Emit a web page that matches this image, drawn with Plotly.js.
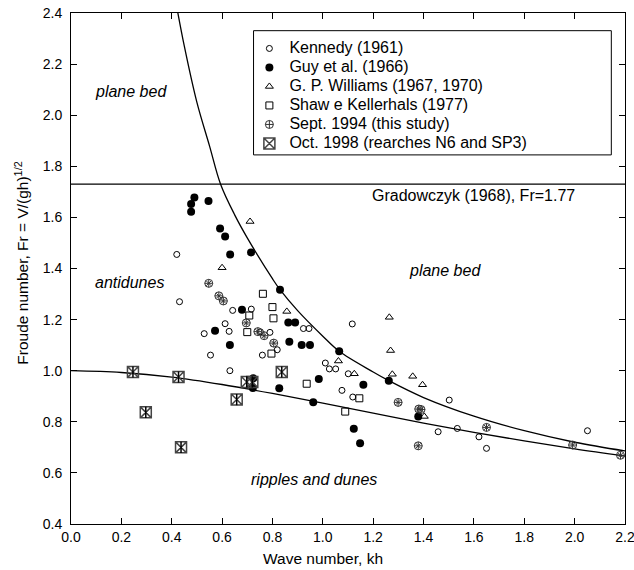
<!DOCTYPE html>
<html>
<head>
<meta charset="utf-8">
<script src="https://cdn.plot.ly/plotly-3.0.1.min.js"></script>
<style>html,body{margin:0;padding:0;background:#fff;}#chart{width:634px;height:570px;}</style>
</head>
<body>
<div id="chart"></div>
<script>
// ---- data ----
const kennedyX = [0.420, 0.431, 0.642, 0.716, 0.612, 0.529, 0.628, 0.554, 0.631, 0.923, 0.945, 0.790, 0.819, 0.760, 0.752, 1.010, 1.026, 1.051, 1.101, 1.117, 1.076, 1.119, 1.502, 1.458, 1.534, 1.620, 1.650, 2.051];
const kennedyY = [1.455, 1.270, 1.236, 1.241, 1.184, 1.145, 1.154, 1.061, 1.000, 1.165, 1.165, 1.150, 1.082, 1.061, 1.152, 1.030, 1.007, 1.007, 0.988, 1.183, 0.923, 0.897, 0.885, 0.761, 0.774, 0.741, 0.696, 0.765];

const guyX = [0.490, 0.477, 0.477, 0.546, 0.592, 0.612, 0.632, 0.715, 0.830, 0.679, 0.572, 0.631, 0.863, 0.890, 0.867, 0.916, 0.949, 1.065, 0.724, 0.722, 0.827, 0.984, 1.161, 1.262, 1.379, 0.962, 1.123, 1.148];
const guyY = [1.678, 1.652, 1.622, 1.664, 1.557, 1.525, 1.455, 1.463, 1.317, 1.239, 1.156, 1.101, 1.189, 1.189, 1.113, 1.101, 1.101, 1.076, 0.970, 0.932, 0.931, 0.968, 0.945, 0.961, 0.821, 0.877, 0.773, 0.716];

const williamsX = [0.711, 0.600, 0.857, 1.062, 1.125, 1.264, 1.269, 1.276, 1.357, 1.396, 1.403];
const williamsY = [1.584, 1.403, 1.232, 1.038, 0.988, 1.209, 1.079, 0.986, 0.978, 0.945, 0.821];

const shawX = [0.762, 0.800, 0.804, 0.708, 0.700, 0.796, 0.936, 1.145, 1.089];
const shawY = [1.301, 1.249, 1.205, 1.216, 1.151, 1.067, 0.949, 0.892, 0.840];

const sept94X = [0.547, 0.587, 0.605, 0.696, 0.742, 0.767, 0.805, 1.299, 1.381, 1.390, 1.379, 1.650, 1.992, 2.182];
const sept94Y = [1.342, 1.293, 1.273, 1.187, 1.153, 1.137, 1.108, 0.876, 0.850, 0.848, 0.706, 0.778, 0.709, 0.669];

const oct98X = [0.246, 0.427, 0.297, 0.437, 0.658, 0.698, 0.720, 0.837];
const oct98Y = [0.995, 0.975, 0.837, 0.700, 0.887, 0.956, 0.956, 0.995];

// boundary curves
const upperX = [0.415, 0.45, 0.50, 0.55, 0.594, 0.65, 0.70, 0.80, 0.83, 0.90, 1.00, 1.065, 1.20, 1.262, 1.40, 1.60, 1.80, 2.00, 2.20];
const upperY = [2.45, 2.27, 2.05, 1.88, 1.73, 1.61, 1.52, 1.36, 1.317, 1.235, 1.135, 1.076, 0.995, 0.961, 0.895, 0.822, 0.765, 0.720, 0.686];
const lowerX = [0.0, 0.2, 0.4, 0.6, 0.8, 1.0, 1.2, 1.4, 1.6, 1.8, 2.0, 2.2];
const lowerY = [1.000, 0.993, 0.975, 0.946, 0.911, 0.873, 0.834, 0.795, 0.759, 0.725, 0.694, 0.666];
const gradX = [0.0, 2.2];
const gradY = [1.73, 1.73];

const legendNames = ["Kennedy (1961)", "Guy et al. (1966)", "G. P. Williams (1967, 1970)", "Shaw e Kellerhals (1977)", "Sept. 1994 (this study)", "Oct. 1998 (rearches N6 and SP3)"];
const xTitle = "Wave number, kh";
const yTitle = "Froude number, Fr = V/(gh)<sup>1/2</sup>";

// ---- chart ----
const FONT = "Liberation Sans, Arial, Helvetica, sans-serif";
const lg = s => '<span style="font-size:16px">' + s + '</span>';
const lineStyle = {color: "#000", width: 1.3};

const traces = [
  {x: upperX, y: upperY, mode: "lines", line: Object.assign({shape: "spline"}, lineStyle), showlegend: false, hoverinfo: "skip"},
  {x: lowerX, y: lowerY, mode: "lines", line: Object.assign({shape: "spline"}, lineStyle), showlegend: false, hoverinfo: "skip"},
  {x: gradX, y: gradY, mode: "lines", line: lineStyle, showlegend: false, hoverinfo: "skip"},
  {x: kennedyX, y: kennedyY, mode: "markers", name: lg(legendNames[0]),
   marker: {symbol: "circle-open", size: 6, color: "#000", line: {width: 1, color: "#000"}}},
  {x: guyX, y: guyY, mode: "markers", name: lg(legendNames[1]),
   marker: {symbol: "circle", size: 8, color: "#000", line: {width: 0}}},
  {x: williamsX, y: williamsY, mode: "markers", name: lg(legendNames[2]),
   marker: {symbol: "triangle-up-open", size: 7, color: "#000", line: {width: 1, color: "#000"}}},
  {x: shawX, y: shawY, mode: "markers", name: lg(legendNames[3]),
   marker: {symbol: "square-open", size: 7, color: "#000", line: {width: 1, color: "#000"}}},
  {x: sept94X, y: sept94Y, mode: "markers", name: lg(legendNames[4]),
   marker: {symbol: "circle-cross-open", size: 8, color: "#333", line: {width: 1, color: "#333"}}},
  {x: sept94X, y: sept94Y, mode: "markers", showlegend: false, hoverinfo: "skip",
   marker: {symbol: "x-thin-open", size: 5, color: "#333", line: {width: 1, color: "#333"}}},
  {x: oct98X, y: oct98Y, mode: "markers", name: lg(legendNames[5]),
   marker: {symbol: "square-x-open", size: 11, color: "#444", line: {width: 1.5, color: "#444"}}},
  {x: oct98X, y: oct98Y, mode: "markers", showlegend: false, hoverinfo: "skip",
   marker: {symbol: "line-ns-open", size: 8, color: "#000", line: {width: 1.5, color: "#000"}}}
];

const axisCommon = {
  showline: true, linecolor: "#000", linewidth: 1, mirror: "allticks",
  ticks: "inside", ticklen: 6, tickwidth: 1, tickcolor: "#000",
  showgrid: false, zeroline: false, tickformat: ".1f", ticklabeloverflow: "allow",
  tickfont: {family: FONT, size: 14, color: "#000"}
};

const layout = {
  width: 634, height: 570,
  margin: {l: 71, r: 9, t: 13, b: 46},
  paper_bgcolor: "#fff", plot_bgcolor: "#fff",
  font: {family: FONT, color: "#000"},
  xaxis: Object.assign({}, axisCommon, {range: [0, 2.2], dtick: 0.2, ticklabelstandoff: 0}),
  yaxis: Object.assign({}, axisCommon, {range: [0.4, 2.4], dtick: 0.2, ticklabelstandoff: 5}),
  showlegend: true,
  legend: {x: 0.322, y: 0.959, xanchor: "left", yanchor: "top",
    bgcolor: "rgba(0,0,0,0)", borderwidth: 0, font: {family: FONT, size: 11, color: "#000"}},
  shapes: [{type: "rect", xref: "paper", yref: "paper", x0: 0.3295, x1: 0.9753, y0: 0.7223, y1: 0.9654,
    line: {color: "#000", width: 1}, fillcolor: "rgba(0,0,0,0)"}],
  annotations: [
    {x: 0.088, y: 2.092, xanchor: "left", text: "<i>plane bed</i>"},
    {x: 0.088, y: 1.345, xanchor: "left", text: "<i>antidunes</i>"},
    {x: 1.333, y: 1.391, xanchor: "left", text: "<i>plane bed</i>"},
    {x: 0.707, y: 0.575, xanchor: "left", text: "<i>ripples and dunes</i>"},
    {x: 1.189, y: 1.687, xanchor: "left", text: "Gradowczyk (1968), Fr=1.77"}
  ].map(a => Object.assign({xref: "x", yref: "y", showarrow: false, yanchor: "middle",
    font: {family: FONT, size: 16, color: "#000"}}, a)).concat([
    {xref: "x", yref: "paper", x: 1.0, y: -0.068, xanchor: "center", yanchor: "middle", showarrow: false,
     text: xTitle, font: {family: FONT, size: 15.5, color: "#000"}},
    {xref: "paper", yref: "y", x: -0.088, y: 1.42, xanchor: "center", yanchor: "middle", showarrow: false,
     textangle: -90, text: yTitle, font: {family: FONT, size: 15.5, color: "#000"}}
  ])
};

Plotly.newPlot("chart", traces, layout, {displayModeBar: false, staticPlot: true});
</script>
</body>
</html>
